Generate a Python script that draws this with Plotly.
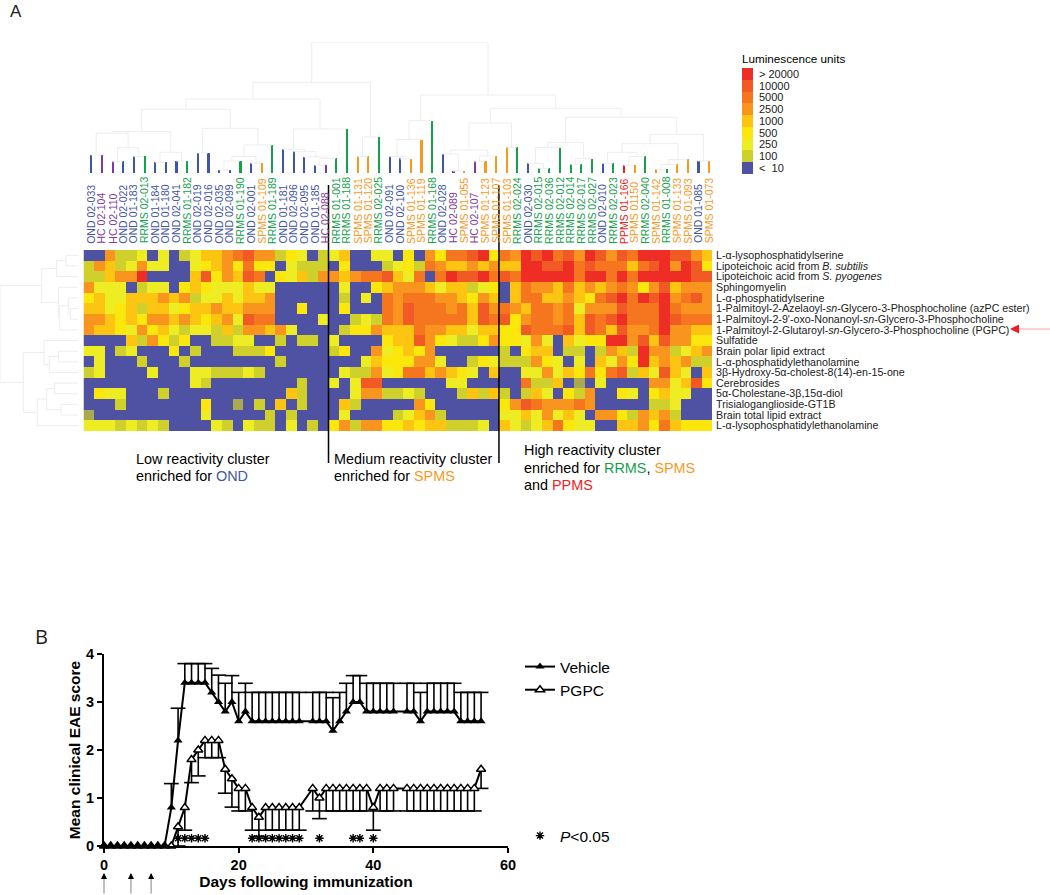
import plotly.graph_objects as go

W, H = 1050, 895
def fx(p): return p / W
def fy(p): return 1 - p / H

# ---------- Panel A data ----------
patients = ["OND 02-033","HC 02-104","HC 02-110","OND 02-022","OND 01-183","RRMS 02-013","OND 01-184","OND 01-180","OND 02-041","RRMS 01-182",
 "OND 02-019","OND 02-016","OND 02-035","OND 02-099","RRMS 01-190","OND 02-001","SPMS 01-109","RRMS 01-189","OND 01-181","OND 02-096",
 "OND 02-095","OND 01-185","HC 02-088","RRMS 01-001","RRMS 01-188","SPMS 01-131","SPMS 01-120","RRMS 02-025","OND 02-091","OND 02-100",
 "SPMS 01-136","SPMS 01-119","RRMS 01-168","OND 02-028","HC 02-089","SPMS 01-055","HC 02-107","SPMS 01-123","SPMS 01-107","SPMS 01-103",
 "RRMS 02-024","OND 02-030","RRMS 02-015","RRMS 02-036","RRMS 02-012","RRMS 02-014","RRMS 02-017","RRMS 02-027","OND 02-010","RRMS 02-023",
 "PPMS 01-166","SPMS 01150","RRMS 02-040","SPMS 01-142","RRMS 01-008","SPMS 01-133","SPMS 01-093","OND 01-085","SPMS 01-073"]
leaf_heights = [55,55,35,35,50,50,33,33,37,37,61,61,10,10,37,30,30,85,72,65,49,24,24,44,133,50,50,109,50,44,43,100,157,58,7,7,35,35,52,78,78,30,15,15,76,27,27,43,30,30,24,24,50,12,12,26,41,37,37]
antigens = ["L-α-lysophosphatidylserine","Lipoteichoic acid from <i>B. subtilis</i>","Lipoteichoic acid from <i>S. pyogenes</i>","Sphingomyelin",
 "L-α-phosphatidylserine","1-Palmitoyl-2-Azelaoyl-<i>sn</i>-Glycero-3-Phosphocholine (azPC ester)","1-Palmitoyl-2-9'-oxo-Nonanoyl-<i>sn</i>-Glycero-3-Phosphocholine",
 "1-Palmitoyl-2-Glutaroyl-<i>sn</i>-Glycero-3-Phosphocholine (PGPC)","Sulfatide","Brain polar lipid extract","L-α-phosphatidylethanolamine",
 "3β-Hydroxy-5α-cholest-8(14)-en-15-one","Cerebrosides","5α-Cholestane-3β,15α-diol","Trisialoganglioside-GT1B","Brain total lipid extract","L-α-lysophosphatidylethanolamine"]
legend_labels = ["<  10","100","250","500","1000","2500","5000","10000","> 20000"]
legend_levels = [0,1,2,3,4,5,6,7,8]

# reactivity level of each cell (index into legend_labels, -1 = faint cell)
row00 = [0,0,5,1,1,2,0,2,0,1,2,4,4,5,6,7,5,5,1,3,2,0,1,2,4,0,0,2,2,0,3,0,5,3,6,6,7,8,3,6,5,8,7,8,6,7,5,8,7,5,7,6,8,8,8,7,7,5,4]
row01 = [1,5,4,1,2,5,2,2,0,0,2,3,4,5,3,6,3,3,0,2,1,1,1,0,3,0,0,0,1,2,3,1,6,5,4,4,5,4,5,4,4,8,8,7,7,8,6,7,6,6,6,4,6,7,8,5,8,7,3]
row02 = [1,1,4,5,5,8,0,0,0,0,4,7,3,5,4,7,6,0,3,2,4,1,5,5,4,5,6,6,7,4,2,6,0,6,8,7,7,8,6,7,6,8,8,8,8,8,6,8,8,6,8,6,8,8,8,8,8,7,7]
row03 = [5,2,2,2,0,1,2,2,0,3,4,3,2,2,2,4,2,2,0,0,0,0,0,0,2,0,0,3,4,5,5,5,4,2,4,4,1,2,3,0,4,6,5,5,4,6,4,5,4,5,6,5,3,5,7,4,5,5,5]
row04 = [3,4,2,2,4,4,4,5,4,5,1,2,2,4,2,4,4,5,0,0,0,0,0,0,1,0,2,0,6,5,6,6,6,5,5,4,3,5,4,0,4,6,6,4,4,5,4,3,6,7,8,6,8,7,8,5,6,7,5]
row05 = [4,4,2,3,4,1,4,4,2,3,4,4,5,4,4,5,5,5,0,0,3,0,0,0,3,0,0,0,6,5,7,6,6,6,5,6,4,7,5,6,5,4,6,6,5,6,2,5,5,5,7,6,6,6,8,6,5,5,5]
row06 = [5,5,4,3,4,3,5,5,4,5,4,3,4,5,2,7,6,6,0,0,0,0,2,0,0,1,2,1,6,5,7,6,6,6,6,6,4,7,6,7,3,5,6,6,5,6,4,7,6,7,8,6,6,6,8,7,6,6,6]
row07 = [5,4,4,3,2,5,3,4,2,1,2,2,1,4,1,5,5,4,5,2,0,0,0,0,1,3,3,5,4,4,4,6,5,5,4,4,2,4,4,3,3,7,6,6,6,7,4,7,6,4,7,5,5,6,8,5,5,4,4]
row08 = [0,0,0,0,4,1,5,3,1,3,0,0,1,1,2,2,0,0,1,0,1,1,0,2,0,0,0,0,3,4,4,7,5,3,2,1,1,3,5,3,3,2,5,2,0,4,2,3,3,8,8,5,7,4,7,5,5,3,3]
row09 = [2,2,0,1,2,0,0,0,3,0,1,0,0,0,1,1,1,3,0,0,0,0,0,1,3,0,0,5,2,3,4,3,5,0,0,0,0,0,0,1,0,3,4,4,0,1,1,0,1,5,4,1,8,5,5,1,2,4,5]
row10 = [0,2,0,0,0,1,0,0,0,1,0,0,0,0,0,0,0,0,1,0,0,0,0,0,0,0,2,4,3,3,3,5,5,2,0,0,1,3,2,1,1,1,5,3,2,0,2,0,4,2,5,3,8,4,5,4,5,1,1]
row11 = [1,2,0,0,0,0,2,0,0,0,2,2,1,1,1,2,1,0,0,0,0,0,0,0,2,1,1,5,2,3,6,6,4,5,4,3,2,0,4,0,0,2,2,5,2,4,3,6,3,6,7,1,4,2,7,4,2,0,4]
row12 = [0,0,0,0,0,0,0,0,0,0,2,1,0,0,0,0,0,0,0,0,1,0,0,2,0,2,7,7,0,0,0,0,0,0,2,2,0,0,0,0,0,6,1,1,4,0,-1,0,2,0,0,0,0,5,5,2,4,7,3]
row13 = [0,3,2,2,0,0,0,1,0,0,0,0,0,0,0,0,0,0,0,4,1,0,0,0,0,2,5,5,1,1,2,1,0,0,0,1,4,1,4,1,0,1,4,2,0,3,1,5,0,0,3,2,0,3,4,2,2,0,0]
row14 = [0,0,0,1,0,0,0,0,0,0,0,3,0,0,-1,0,1,0,4,0,1,0,0,0,4,1,0,0,0,0,0,5,3,0,0,0,0,0,0,3,5,7,6,5,5,5,6,5,0,0,0,0,0,1,1,2,0,0,0]
row15 = [-1,0,0,0,0,0,0,0,0,0,0,2,0,0,0,0,0,1,0,1,0,0,0,0,2,0,0,0,0,1,2,4,5,1,0,0,0,0,0,2,2,4,2,5,2,4,2,0,5,5,3,1,5,4,5,1,0,0,0]
row16 = [2,2,2,1,2,1,2,1,0,0,0,0,2,1,0,2,1,1,0,2,0,1,0,3,5,1,5,5,3,3,4,3,4,4,1,1,1,2,0,4,2,1,2,4,6,3,2,2,0,0,4,4,5,3,6,4,3,3,3]
heat_rows = [row00,row01,row02,row03,row04,row05,row06,row07,row08,row09,row10,row11,row12,row13,row14,row15,row16]

# dendrograms: (merge height, left child, right child); ints are leaves
a5 = (125,(120,(55,0,1),(77,(35,2,3),(50,4,5))),(63,(33,6,7),(37,8,9)))
b4 = (135,(61,10,11),(85,(50,(37,(10,12,13),14),(30,15,16)),17))
d2 = (133,(72,18,(65,19,(49,20,(44,(24,21,22),23)))),24)
g_node = (273,(223,(192,a5,b4),d2),(109,(50,25,26),27))
h_node = (158,(102,(50,28,(43,29,30)),31),32)
j_node = (151,(70,(58,33,(7,34,35)),(52,(35,36,37),38)),(78,39,40))
k_node = (92,(78,(30,41,(15,42,43)),44),(44,(27,45,46),47))
l_node = (89,(63,(30,48,49),(50,(24,50,51),52)),(41,(26,(12,53,54),55),56))
n_node = (168,k_node,(117,l_node,(37,57,58)))
col_tree = (393,g_node,(235,h_node,(195,j_node,n_node)))
row_up = (110,(65,(37,0,1),2),(60,3,(57,(30,4,(23,5,6)),7)))
row_low = (165,(103,8,(87,(60,9,10),11)),(123,(95,(72,12,13),(52,14,15)),16))
row_tree = (235,row_up,row_low)

# ---------- Panel B data ----------
days_vehicle = [0,1,2,3,4,5,6,7,8,9,10,11,12,13,14,15,16,17,18,19,20,21,22,23,24,25,26,27,28,29,31,32,33,34,35,36,37,38,39,40,41,42,43,45,46,47,48,49,50,51,52,53,54,55,56]
vehicle = [0,0,0,0,0,0,0,0,0,0,0.8,2.2,3.4,3.4,3.4,3.4,3.2,3.0,2.8,3.0,2.6,2.8,2.6,2.6,2.6,2.6,2.6,2.6,2.6,2.6,2.6,2.6,2.6,2.4,2.6,2.8,3.0,3.0,2.8,2.8,2.8,2.8,2.8,2.8,2.8,2.6,2.8,2.8,2.8,2.8,2.8,2.6,2.6,2.6,2.6]
vehicle_top = [0,0,0,0,0,0,0,0,0,0,1.3,2.87,3.8,3.8,3.8,3.8,3.7,3.56,3.39,3.55,3.2,3.39,3.2,3.2,3.2,3.2,3.2,3.2,3.2,3.2,3.2,3.2,3.2,3.09,3.2,3.39,3.55,3.55,3.39,3.39,3.39,3.39,3.39,3.39,3.39,3.2,3.39,3.39,3.39,3.39,3.39,3.2,3.2,3.2,3.2]
days_pgpc = [0,1,2,3,4,5,6,7,8,9,10,11,12,13,14,15,16,17,18,19,20,21,22,23,24,25,26,27,28,29,31,32,33,34,35,36,37,38,39,40,41,42,43,45,46,47,48,49,50,51,52,53,54,55,56]
pgpc = [0,0,0,0,0,0,0,0,0,0,0,0.4,0.8,1.8,2.0,2.2,2.2,2.2,1.6,1.4,1.2,1.2,0.8,0.6,0.8,0.8,0.8,0.8,0.8,0.8,1.2,1.0,1.2,1.2,1.2,1.2,1.2,1.2,1.2,0.8,1.2,1.2,1.2,1.2,1.2,1.2,1.2,1.2,1.2,1.2,1.2,1.2,1.2,1.2,1.6]
pgpc_low = [0,0,0,0,0,0,0,0,0,0,0,0,0.33,1.32,1.46,1.84,1.84,1.84,1.1,0.81,0.73,0.73,0.33,0.2,0.33,0.33,0.33,0.33,0.33,0.33,0.73,0.57,0.73,0.73,0.73,0.73,0.73,0.73,0.73,0.33,0.73,0.73,0.73,0.73,0.73,0.73,0.73,0.73,0.73,0.73,0.73,0.73,0.73,0.73,1.2]
sig_days = [11,12,13,14,15,22,23,24,25,26,27,28,29,32,37,38,40]
sig_level = [0.16]*len(sig_days)
immunization_days = [0,4,7]

# ---------- styles ----------
BLUE, OLIVE, LEMON, YEL, GOLD, OR1, OR2, OR3, RED = "#4F51A3","#CFD02B","#EEEC22","#FBE70B","#FDC412","#F9951F","#F5761F","#F15A25","#EE2D25"
DULL = "#ABA950"
levels = [DULL, BLUE, OLIVE, LEMON, YEL, GOLD, OR1, OR2, OR3, RED]
n = len(levels)
cscale = []
for i, c in enumerate(levels):
    cscale += [[i/n, c], [(i+1)/n, c]]
group_color = {"OND":"#3F55A7","HC":"#7E3A98","RRMS":"#14A04C","SPMS":"#F8981D","PPMS":"#EE1C25"}
FONT = "Liberation Sans"
DGREY = "#EDEDED"

def dendro(node, pos_of, h_of):
    xs, ys = [], []
    def walk(nd):
        if isinstance(nd, int):
            return pos_of(nd), h_of(nd)
        h, l, r = nd
        pl, hl = walk(l)
        pr, hr = walk(r)
        xs.extend([pl, pl, pr, pr, None])
        ys.extend([hl, h, h, hr, None])
        return (pl + pr) / 2, h
    walk(node)
    return xs, ys

CAP = 1.1   # half cap width in days
def whiskers(days, means, ends):
    xs, ys = [], []
    for d, m, e in zip(days, means, ends):
        if m == e:
            continue
        xs += [d, d, None, d - CAP, d + CAP, None]
        ys += [m, e, None, e, e, None]
    return xs, ys

fig = go.Figure()
# main heatmap
fig.add_trace(go.Heatmap(z=heat_rows, x=list(range(59)), y=list(range(17)), colorscale=cscale, zmin=-1.5, zmax=8.5,
                         showscale=False, xaxis="x", yaxis="y", hoverinfo="skip"))
# column dendrogram + bars
cx, cy = dendro(col_tree, lambda i: i, lambda i: leaf_heights[i])
fig.add_trace(go.Scatter(x=cx, y=cy, mode="lines", line=dict(color=DGREY, width=1), xaxis="x2", yaxis="y2", showlegend=False, hoverinfo="skip"))
fig.add_trace(go.Bar(x=list(range(59)), y=leaf_heights, width=0.2, marker=dict(color=[group_color[p.split()[0]] for p in patients], line=dict(width=0)),
                     xaxis="x2", yaxis="y2", showlegend=False, hoverinfo="skip"))
# row dendrogram
ry, rx = dendro(row_tree, lambda i: i, lambda i: 0)
fig.add_trace(go.Scatter(x=rx, y=ry, mode="lines", line=dict(color=DGREY, width=1), xaxis="x3", yaxis="y3", showlegend=False, hoverinfo="skip"))
# colour key
fig.add_trace(go.Heatmap(z=[[v] for v in legend_levels], x=[0], y=list(range(9)), colorscale=cscale, zmin=-1.5, zmax=8.5,
                         showscale=False, xaxis="x4", yaxis="y4", hoverinfo="skip"))
# Panel B: whiskers
for days, means, ends in [(days_vehicle, vehicle, vehicle_top), (days_pgpc, pgpc, pgpc_low)]:
    wx, wy = whiskers(days, means, ends)
    fig.add_trace(go.Scatter(x=wx, y=wy, mode="lines", line=dict(color="black", width=1.6), cliponaxis=False, showlegend=False,
                             hoverinfo="skip", xaxis="x5", yaxis="y5"))
fig.add_trace(go.Scatter(x=days_pgpc, y=pgpc, mode="lines+markers", name="PGPC", cliponaxis=False,
    line=dict(color="black", width=2), marker=dict(symbol="triangle-up", size=8, color="white", line=dict(width=1.5, color="black")),
    xaxis="x5", yaxis="y5"))
fig.add_trace(go.Scatter(x=days_vehicle, y=vehicle, mode="lines+markers", name="Vehicle", cliponaxis=False,
    line=dict(color="black", width=2), marker=dict(symbol="triangle-up", size=8, color="black"),
    xaxis="x5", yaxis="y5"))
fig.add_trace(go.Scatter(x=sig_days, y=sig_level, mode="markers", name="<i>P</i><0.05", cliponaxis=False, legend="legend2",
    marker=dict(symbol="asterisk", size=7, color="black", line=dict(width=1.4, color="black")), xaxis="x5", yaxis="y5"))

ann = []
for i, p in enumerate(patients):
    ann.append(dict(x=i, xref="x2", y=fy(245.5), yref="paper", text=p, textangle=-90, showarrow=False, xanchor="center", yanchor="bottom",
                    font=dict(family=FONT, size=10.5, color=group_color[p.split()[0]])))
def label(x, y, text, size=14.4, family=FONT, color="black"):
    ann.append(dict(x=fx(x), xref="paper", y=fy(y), yref="paper", text=text, showarrow=False, xanchor="left", yanchor="middle",
                    font=dict(family=family, size=size, color=color)))
label(8, 11.5, "A", 17, FONT, "#222")
label(33, 636, "B", 20, "Open Sans", "#222")
label(740, 59, "Luminescence units", 11.7)
label(134, 459, "Low reactivity cluster")
label(134, 476, f"enriched for <span style='color:{group_color['OND']}'>OND</span>")
label(332, 459, "Medium reactivity cluster")
label(332, 476, f"enriched for <span style='color:{group_color['SPMS']}'>SPMS</span>")
label(522, 450, "High reactivity cluster")
label(522, 468, f"enriched for <span style='color:{group_color['RRMS']}'>RRMS</span>, <span style='color:{group_color['SPMS']}'>SPMS</span>")
label(522, 485, f"and <span style='color:{group_color['PPMS']}'>PPMS</span>")
# PGPC pointer
ann.append(dict(x=fx(1010), xref="paper", y=fy(329), yref="paper", ax=6, ay=0, text="", showarrow=True,
                arrowhead=2, arrowsize=1.2, arrowwidth=1.5, arrowcolor="#EE1C25"))
# immunization arrows
for d in immunization_days:
    ann.append(dict(x=d, xref="x5", y=fy(874), yref="paper", ax=0, ay=22, text="", showarrow=True, arrowhead=0, arrowwidth=1.2, arrowcolor="#999999"))
    ann.append(dict(x=d, xref="x5", y=fy(873), yref="paper", ax=0, ay=5, text="", showarrow=True, arrowhead=2, arrowsize=1.2, arrowwidth=1, arrowcolor="black"))

shapes = [
    dict(type="line", xref="x", x0=22.5, x1=22.5, yref="paper", y0=fy(185), y1=fy(463), line=dict(color="black", width=1.5)),
    dict(type="line", xref="x", x0=38.5, x1=38.5, yref="paper", y0=fy(185), y1=fy(463), line=dict(color="black", width=1.5)),
    dict(type="line", xref="paper", x0=fx(1015), x1=fx(1050), yref="paper", y0=fy(329), y1=fy(329), line=dict(color="#F5A3AB", width=1)),
]
hidden = dict(visible=False, showgrid=False, zeroline=False)
tickb = dict(family=FONT, size=14.5, color="black", weight="bold")
titleb = dict(family=FONT, size=15.5, color="black", weight="bold")
fig.update_layout(
    width=W, height=H, margin=dict(l=0, r=0, t=0, b=0), autosize=False, paper_bgcolor="white", plot_bgcolor="rgba(0,0,0,0)",
    bargap=0, annotations=ann, shapes=shapes, hovermode=False,
    xaxis=dict(hidden, domain=[fx(83.5), fx(712)], range=[-0.5, 58.5], anchor="y"),
    yaxis=dict(domain=[fy(431), fy(250)], range=[16.5, -0.5], anchor="x", side="right", showgrid=False, zeroline=False, showline=False,
               tickmode="array", tickvals=list(range(17)), ticktext=antigens, ticks="", ticklabelstandoff=3,
               tickfont=dict(family=FONT, size=10.7, color="#222")),
    xaxis2=dict(hidden, domain=[fx(85.5), fx(714)], range=[-0.5, 58.5], anchor="y2"),
    yaxis2=dict(hidden, domain=[fy(173.3), fy(42.3)], range=[0, 393], anchor="x2"),
    xaxis3=dict(hidden, domain=[0, fx(78.3)], range=[235, 0], anchor="y3"),
    yaxis3=dict(hidden, domain=[fy(431), fy(250)], range=[16.5, -0.5], anchor="x3"),
    xaxis4=dict(hidden, domain=[fx(742), fx(753)], range=[-0.5, 0.5], anchor="y4"),
    yaxis4=dict(domain=[fy(174), fy(68)], range=[-0.5, 8.5], anchor="x4", side="right", showgrid=False, zeroline=False, showline=False,
                tickmode="array", tickvals=legend_levels, ticktext=legend_labels, ticks="", ticklabelstandoff=5,
                tickfont=dict(family=FONT, size=11, color="#222")),
    xaxis5=dict(domain=[fx(104), fx(508)], range=[0, 60], anchor="y5", showgrid=False, zeroline=False, showline=True, linecolor="black", linewidth=2,
                ticks="outside", ticklen=5, tickwidth=2, tickcolor="black", tickvals=[0,20,40,60], tickfont=tickb, automargin=False,
                title=dict(text="Days following immunization", font=titleb, standoff=1)),
    yaxis5=dict(domain=[fy(846), fy(654)], range=[0, 4], anchor="x5", showgrid=False, zeroline=False, showline=True, linecolor="black", linewidth=2,
                ticks="outside", ticklen=5, tickwidth=2, tickcolor="black", tickvals=[0,1,2,3,4], tickfont=tickb, automargin=False,
                title=dict(text="Mean clinical EAE score", font=titleb, standoff=2)),
    legend=dict(x=fx(520), y=fy(650), xanchor="left", yanchor="top", traceorder="reversed", itemwidth=30, bgcolor="rgba(0,0,0,0)", font=dict(family=FONT, size=15.5, color="black"), tracegroupgap=0),
    legend2=dict(x=fx(520), y=fy(819), xanchor="left", yanchor="top", bgcolor="rgba(0,0,0,0)", font=dict(family=FONT, size=15.5, color="black")),
)
assert all(len(r) == 59 for r in heat_rows)
assert len(days_vehicle) == len(vehicle) == len(vehicle_top)
assert len(days_pgpc) == len(pgpc) == len(pgpc_low)
fig.write_html("out.html", config=dict(displayModeBar=False), post_script="document.body.style.margin='0';document.body.style.overflow='hidden';")
